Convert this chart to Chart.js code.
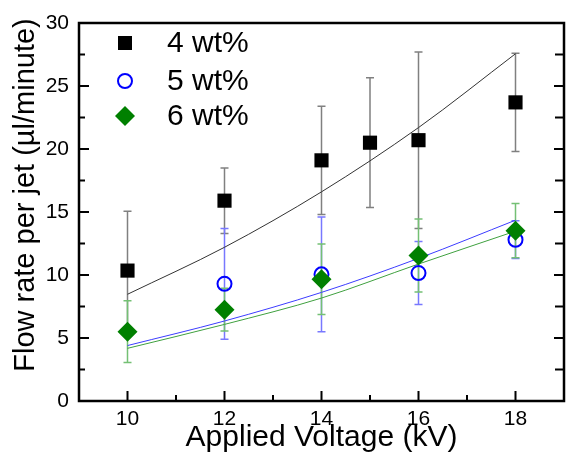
<!DOCTYPE html>
<html>
<head>
<meta charset="utf-8">
<script src="https://cdn.jsdelivr.net/npm/chart.js@4.4.1/dist/chart.umd.min.js"></script>
<style>
  html, body { margin: 0; padding: 0; background: #fff; }
  #wrap { width: 574px; height: 453px; position: relative; }
</style>
</head>
<body>
<div id="wrap"><canvas id="flowChart"></canvas></div>
<script>
// measured points (kV vs flow rate per jet, ul/minute)
var voltage4 = [10, 12, 14, 15, 16, 18];
var rate4 = [10.35, 15.9, 19.1, 20.5, 20.7, 23.7];
var err4 = [4.7, 2.6, 4.3, 5.15, 7.0, 3.9];

var voltage5 = [12, 14, 16, 18];
var rate5 = [9.3, 10.05, 10.15, 12.8];
var err5 = [4.4, 4.55, 2.5, 1.5];

var voltage6 = [10, 12, 14, 16, 18];
var rate6 = [5.5, 7.25, 9.67, 11.55, 13.52];
var err6 = [2.45, 1.7, 2.8, 2.9, 2.15];

// fitted curves
var fitVoltage = [10, 12, 14, 16, 18];
var fit4 = [8.47, 12.2, 16.6, 21.7, 27.56];
var fit5 = [4.4, 6.35, 8.62, 11.32, 14.35];
var fit6 = [4.18, 6.08, 8.17, 10.87, 13.48];

var legendLabels = ['4 wt%', '5 wt%', '6 wt%'];
var xMajorTicks = [10, 12, 14, 16, 18];
var xMinorTicks = [11, 13, 15, 17];
var yMajorTicks = [0, 5, 10, 15, 20, 25, 30];
var yMinorTicks = [2.5, 7.5, 12.5, 17.5, 22.5, 27.5];

var FONT = '"Liberation Sans", Arial, sans-serif';

function toPoints(xs, ys) {
    return xs.map(function (x, i) { return { x: x, y: ys[i] }; });
}

function drawMarker(ctx, style, x, y) {
    ctx.save();
    if (style === 'square') {
        ctx.fillStyle = '#000';
        ctx.fillRect(x - 7, y - 7, 14, 14);
    } else if (style === 'circle') {
        ctx.strokeStyle = '#0000ff';
        ctx.lineWidth = 2;
        ctx.beginPath();
        ctx.arc(x, y, 7, 0, Math.PI * 2);
        ctx.stroke();
    } else {
        ctx.fillStyle = '#008000';
        ctx.beginPath();
        ctx.moveTo(x, y - 10);
        ctx.lineTo(x + 10, y);
        ctx.lineTo(x, y + 10);
        ctx.lineTo(x - 10, y);
        ctx.closePath();
        ctx.fill();
    }
    ctx.restore();
}

var errorBars = [
    { xs: voltage4, ys: rate4, errs: err4, color: '#808080' },
    { xs: voltage5, ys: rate5, errs: err5, color: '#7878ff' },
    { xs: voltage6, ys: rate6, errs: err6, color: '#74c074' }
];

var framePlugin = {
    id: 'frame',
    beforeDatasetsDraw: function (chart) {
        var ctx = chart.ctx, xs = chart.scales.x, ys = chart.scales.y;
        ctx.save();
        ctx.lineWidth = 1.5;
        errorBars.forEach(function (s) {
            ctx.strokeStyle = s.color;
            s.xs.forEach(function (v, i) {
                var px = xs.getPixelForValue(v);
                var top = ys.getPixelForValue(s.ys[i] + s.errs[i]);
                var bot = ys.getPixelForValue(s.ys[i] - s.errs[i]);
                ctx.beginPath();
                ctx.moveTo(px, top); ctx.lineTo(px, bot);
                ctx.moveTo(px - 4, top); ctx.lineTo(px + 4, top);
                ctx.moveTo(px - 4, bot); ctx.lineTo(px + 4, bot);
                ctx.stroke();
            });
        });
        ctx.restore();
    },
    afterDraw: function (chart) {
        var ctx = chart.ctx, a = chart.chartArea;
        var xs = chart.scales.x, ys = chart.scales.y;
        ctx.save();
        ctx.strokeStyle = '#000';
        ctx.lineWidth = 2.5;
        ctx.strokeRect(a.left, a.top, a.right - a.left, a.bottom - a.top);
        ctx.lineWidth = 2;
        ctx.beginPath();
        xMajorTicks.forEach(function (v) {
            var px = xs.getPixelForValue(v);
            ctx.moveTo(px, a.bottom); ctx.lineTo(px, a.bottom - 10);
        });
        xMinorTicks.forEach(function (v) {
            var px = xs.getPixelForValue(v);
            ctx.moveTo(px, a.bottom); ctx.lineTo(px, a.bottom - 6);
        });
        yMajorTicks.forEach(function (v) {
            var py = ys.getPixelForValue(v);
            ctx.moveTo(a.left, py); ctx.lineTo(a.left + 10, py);
            ctx.moveTo(a.right, py); ctx.lineTo(a.right - 10, py);
        });
        yMinorTicks.forEach(function (v) {
            var py = ys.getPixelForValue(v);
            ctx.moveTo(a.left, py); ctx.lineTo(a.left + 6, py);
            ctx.moveTo(a.right, py); ctx.lineTo(a.right - 9, py);
        });
        ctx.stroke();

        // y axis title
        ctx.fillStyle = '#000';
        ctx.font = '29px ' + FONT;
        ctx.textAlign = 'center';
        ctx.textBaseline = 'alphabetic';
        ctx.translate(34, 195);
        ctx.rotate(-Math.PI / 2);
        ctx.fillText('Flow rate per jet (\u00b5l/minute)', 0, 0);
        ctx.restore();

        // legend
        var markers = ['square', 'circle', 'diamond'];
        var rows = [43, 81, 116];
        ctx.save();
        ctx.font = '30px ' + FONT;
        ctx.fillStyle = '#000';
        ctx.textAlign = 'left';
        ctx.textBaseline = 'middle';
        legendLabels.forEach(function (lab, i) {
            drawMarker(ctx, markers[i], 125, rows[i]);
            ctx.fillText(lab, 167, rows[i] + 1);
        });
        ctx.restore();
    }
};

var ctx = document.getElementById('flowChart');
var flowChart = new Chart(ctx, {
    data: {
        datasets: [
            {
                type: 'line', label: 'fit 4', data: toPoints(fitVoltage, fit4),
                borderColor: '#333333', borderWidth: 1, pointRadius: 0,
                cubicInterpolationMode: 'monotone', order: 6
            },
            {
                type: 'line', label: 'fit 5', data: toPoints(fitVoltage, fit5),
                borderColor: '#3c3cff', borderWidth: 1, pointRadius: 0,
                cubicInterpolationMode: 'monotone', order: 5
            },
            {
                type: 'line', label: 'fit 6', data: toPoints(fitVoltage, fit6),
                borderColor: '#3fa03f', borderWidth: 1, pointRadius: 0,
                cubicInterpolationMode: 'monotone', order: 4
            },
            {
                type: 'scatter', label: legendLabels[0], data: toPoints(voltage4, rate4),
                pointStyle: 'rect', pointRadius: 10, backgroundColor: '#000', borderWidth: 0, order: 3
            },
            {
                type: 'scatter', label: legendLabels[1], data: toPoints(voltage5, rate5),
                pointStyle: 'circle', pointRadius: 7, backgroundColor: 'rgba(0,0,0,0)',
                borderColor: '#0000ff', borderWidth: 2, order: 2
            },
            {
                type: 'scatter', label: legendLabels[2], data: toPoints(voltage6, rate6),
                pointStyle: 'rectRot', pointRadius: 10, backgroundColor: '#008000', borderWidth: 0, order: 1
            }
        ]
    },
    options: {
        responsive: true,
        maintainAspectRatio: false,
        animation: false,
        layout: { padding: { top: 23, right: 2, left: 0, bottom: 0 } },
        plugins: {
            legend: { display: false },
            tooltip: { enabled: false }
        },
        scales: {
            x: {
                type: 'linear', min: 9, max: 19,
                grid: { display: false, drawTicks: false },
                border: { display: false },
                afterBuildTicks: function (scale) {
                    scale.ticks = xMajorTicks.map(function (v) { return { value: v }; });
                },
                afterFit: function (scale) { scale.height = 52; },
                ticks: { color: '#000', padding: 6, maxRotation: 0, font: { family: FONT, size: 21 } },
                title: {
                    display: true, text: 'Applied Voltage (kV)', color: '#000',
                    font: { family: FONT, size: 30, lineHeight: 1 }, padding: { top: 0, bottom: 0 }
                }
            },
            y: {
                type: 'linear', min: 0, max: 30,
                grid: { display: false, drawTicks: false },
                border: { display: false },
                afterBuildTicks: function (scale) {
                    scale.ticks = yMajorTicks.map(function (v) { return { value: v }; });
                },
                afterFit: function (scale) { scale.width = 79; },
                ticks: { color: '#000', padding: 10, font: { family: FONT, size: 21 } }
            }
        }
    },
    plugins: [framePlugin]
});
</script>
</body>
</html>
